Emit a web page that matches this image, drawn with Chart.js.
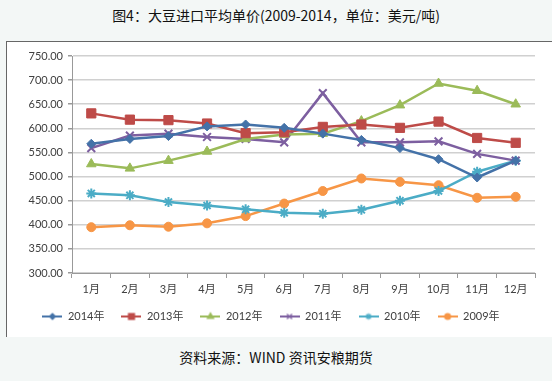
<!DOCTYPE html>
<html><head><meta charset="utf-8">
<script src="https://cdn.jsdelivr.net/npm/chart.js@4/dist/chart.umd.min.js"></script>
<style>
html,body{margin:0;padding:0;}
body{width:552px;height:381px;background:#f3f7f6;position:relative;overflow:hidden;font-family:"Noto Sans CJK SC",sans-serif;}
#title{position:absolute;left:0;top:5px;width:552px;text-align:center;font-size:14px;line-height:20px;color:#111;}
#box{position:absolute;left:6px;top:41px;width:560px;height:295px;background:#fff;border-left:1px solid #666;border-top:1px solid #666;}
#wrap{position:absolute;left:0;top:0;width:545px;height:295px;}
#src{position:absolute;left:0;top:347px;width:552px;text-align:center;font-size:14px;line-height:20px;color:#111;}
</style></head>
<body>
<div id="title">图4：大豆进口平均单价(2009-2014，单位：美元/吨)</div>
<div id="box"><div id="wrap"><canvas id="c"></canvas></div></div>
<div id="src">资料来源：WIND 资讯安粮期货</div>
<script>
const months = ["1月","2月","3月","4月","5月","6月","7月","8月","9月","10月","11月","12月"];
const seriesNames = ["2014年","2013年","2012年","2011年","2010年","2009年"];
const y2014 = [568,578,584,604,608,601,589,576,559,536,498,533];
const y2013 = [631,618,617,610,590,592,603,608,601,614,580,570];
const y2012 = [526,517,533,552,578,587,589,615,648,693,678,650];
const y2011 = [559,585,589,582,578,571,673,571,571,573,547,533];
const y2010 = [465,461,447,440,432,425,423,431,450,470,510,533];
const y2009 = [395,399,396,403,418,444,470,496,489,482,456,458];
const yTicks = [300,350,400,450,500,550,600,650,700,750];

const colors = ["#4472a8","#be4b48","#9bbb59","#7d5fa0","#4bacc6","#f79646"];
const styles = ["rectRot","rect","triangle","crossRot","star","circle"];
const radii = [4.5,6.5,5.5,5.5,5,4.5];
const values = [y2014,y2013,y2012,y2011,y2010,y2009];

function legendIcon(i){
  const cv=document.createElement('canvas');cv.width=20;cv.height=12;
  const ctx=cv.getContext('2d');
  ctx.strokeStyle=colors[i];ctx.lineWidth=2;
  ctx.beginPath();ctx.moveTo(0,6);ctx.lineTo(20,6);ctx.stroke();
  ctx.fillStyle=colors[i];ctx.lineWidth=1.2;
  Chart.helpers.drawPoint(ctx,{pointStyle:styles[i],rotation:0,borderWidth:1.2,radius:Math.max(3,radii[i]*0.65)},10,6);
  return cv;
}

const datasets = seriesNames.map((n,i)=>({
  label:n,data:values[i],borderColor:colors[i],backgroundColor:colors[i],
  borderWidth:2.5,pointStyle:styles[i],pointRadius:radii[i],
  pointBorderWidth:(styles[i]==="crossRot"||styles[i]==="star")?2:1,
  pointBorderColor:colors[i],pointBackgroundColor:colors[i],tension:0,fill:false
}));

new Chart(document.getElementById('c'),{
  type:'line',
  data:{labels:months,datasets:datasets},
  options:{
    responsive:true,maintainAspectRatio:false,animation:false,
    layout:{padding:{top:14,right:17,bottom:5,left:0}},
    plugins:{
      title:{display:false},tooltip:{enabled:false},
      legend:{position:'bottom',
        labels:{usePointStyle:true,pointStyleWidth:20,boxHeight:12,padding:17,color:'#404040',
          font:{family:'Lato, "Noto Sans CJK SC"',size:11},
          generateLabels:(chart)=>chart.data.datasets.map((d,i)=>({text:d.label,pointStyle:legendIcon(i),fillStyle:colors[i],strokeStyle:colors[i],lineWidth:0,datasetIndex:i,fontColor:'#404040'}))
        }}
    },
    scales:{
      x:{offset:true,
        afterFit:(s)=>{s.height=21;},
        grid:{drawOnChartArea:false,drawTicks:true,tickLength:5,color:'#999',offset:true},
        border:{color:'#999',width:1},
        ticks:{color:'#404040',padding:5,font:{family:'Lato, "Noto Sans CJK SC"',size:11},maxRotation:0,autoSkip:false}},
      y:{min:300,max:750,
        afterFit:(s)=>{s.width=65;},
        afterBuildTicks:(s)=>{s.ticks=yTicks.map(v=>({value:v}));},
        grid:{color:'#d0d0d0',lineWidth:1.5,tickLength:4,drawTicks:true,tickColor:'#999'},
        border:{color:'#999',width:1},
        ticks:{color:'#404040',padding:5,font:{family:'Lato',size:11},callback:(v)=>Number(v).toFixed(2)}}
    }
  }
});
</script>
</body></html>
